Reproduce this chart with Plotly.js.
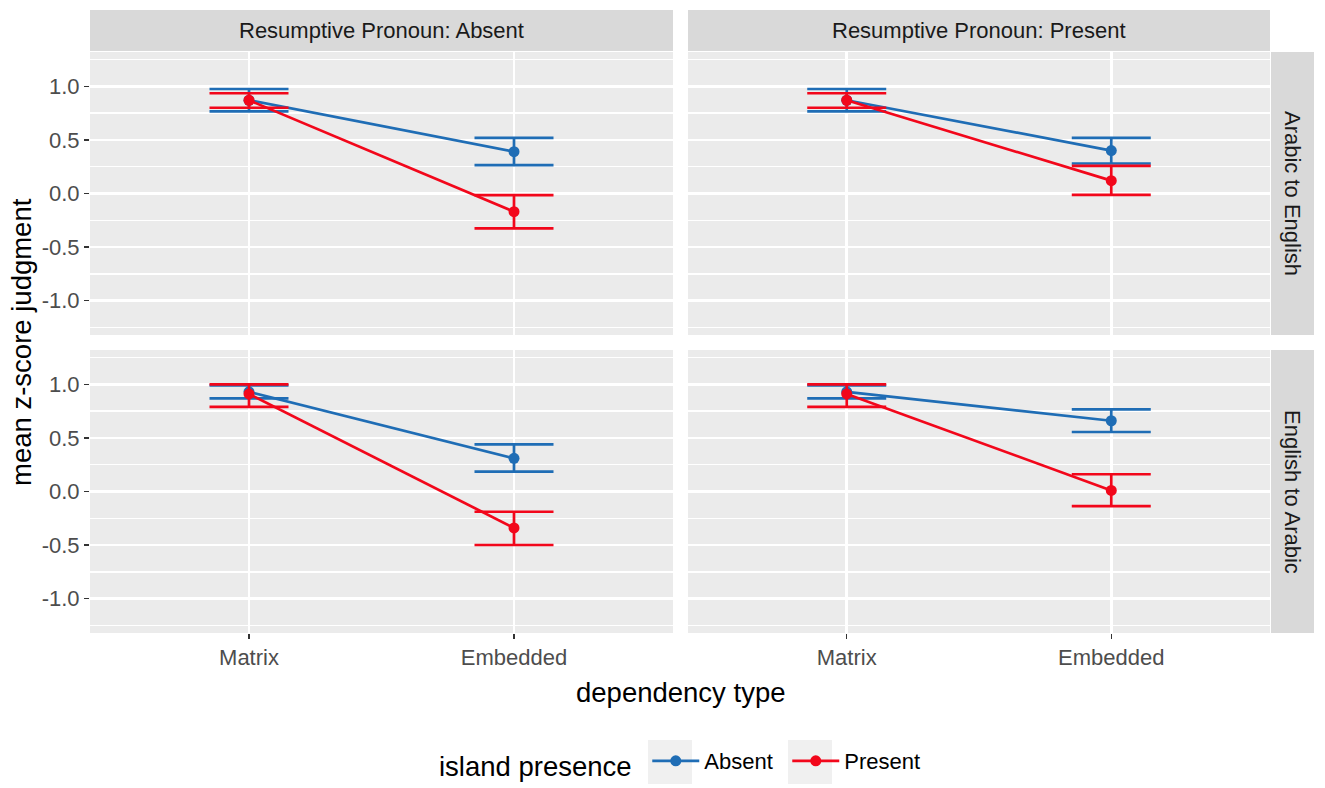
<!DOCTYPE html>
<html>
<head>
<meta charset="utf-8">
<script src="https://cdn.plot.ly/plotly-3.0.1.min.js"></script>
<style>
  html, body { margin: 0; padding: 0; background: #fff; }
  #chart { width: 1325px; height: 788px; }
</style>
</head>
<body>
<div id="chart"></div>
<script>
// categories
var depTypes = ['Matrix', 'Embedded']
var rpLevels = ['Resumptive Pronoun: Absent', 'Resumptive Pronoun: Present']
var directions = ['Arabic to English', 'English to Arabic']
var islandLevels = ['Absent', 'Present']

// panel order: [AE / RP absent, AE / RP present, EA / RP absent, EA / RP present]
var meanAbsent = [[0.87, 0.39], [0.87, 0.40], [0.93, 0.31], [0.93, 0.66]]
var loAbsent   = [[0.767, 0.264], [0.767, 0.28], [0.868, 0.186], [0.868, 0.555]]
var hiAbsent   = [[0.975, 0.518], [0.975, 0.518], [0.99, 0.44], [0.99, 0.766]]

var meanPresent = [[0.87, -0.17], [0.87, 0.12], [0.91, -0.34], [0.91, 0.01]]
var loPresent   = [[0.80, -0.326], [0.80, -0.013], [0.79, -0.499], [0.79, -0.136]]
var hiPresent   = [[0.935, -0.016], [0.935, 0.257], [1.0, -0.189], [1.0, 0.161]]

var yTicks = [-1.0, -0.5, 0.0, 0.5, 1.0]
var yTickText = ['-1.0', '-0.5', '0.0', '0.5', '1.0']

var W = 1325, H = 788
var FONT = 'Liberation Sans, Arial, sans-serif'
var colBlue = '#1f6db5'
var colRed = '#f2071b'

// pixel boxes of the panels
var cols = [[90, 673], [688, 1270]]
var rows = [[52, 335], [350, 633]]
function px(x) { return x / W }
function py(y) { return 1 - y / H }

function makeTrace(p, mean, lo, hi, color, name) {
    var up = mean.map(function (m, i) { return hi[i] - m })
    var down = mean.map(function (m, i) { return m - lo[i] })
    var suffix = p === 0 ? '' : String(p + 1)
    return {
        x: depTypes, y: mean, name: name, legendgroup: name,
        showlegend: p === 0,
        type: 'scatter', mode: 'lines+markers',
        xaxis: 'x' + suffix, yaxis: 'y' + suffix,
        line: {color: color, width: 2.7},
        marker: {color: color, size: 11},
        error_y: {type: 'data', symmetric: false, array: up, arrayminus: down,
                  color: color, thickness: 2.7, width: 39.5},
        hoverinfo: 'x+y+name'
    }
}

var data = []
for (var p = 0; p < 4; p++) {
    data.push(makeTrace(p, meanAbsent[p], loAbsent[p], hiAbsent[p], colBlue, islandLevels[0]))
}
for (var p = 0; p < 4; p++) {
    data.push(makeTrace(p, meanPresent[p], loPresent[p], hiPresent[p], colRed, islandLevels[1]))
}

var layout = {
    width: W, height: H,
    margin: {l: 0, r: 0, t: 0, b: 0},
    paper_bgcolor: '#ffffff', plot_bgcolor: '#ebebeb',
    font: {family: FONT, size: 22, color: '#4d4d4d'},
    showlegend: true,
    legend: {
        orientation: 'h', x: px(437), xanchor: 'left', y: py(763), yanchor: 'middle',
        bgcolor: 'rgba(0,0,0,0)',
        itemwidth: 47, entrywidth: 78, entrywidthmode: 'pixels',
        title: {text: 'island presence ', side: 'left', font: {size: 27.5, color: '#000'}},
        font: {size: 22, color: '#000'}
    },
    shapes: [],
    annotations: []
}

for (var p = 0; p < 4; p++) {
    var r = Math.floor(p / 2), c = p % 2
    var suffix = p === 0 ? '' : String(p + 1)
    layout['xaxis' + suffix] = {
        domain: [px(cols[c][0]), px(cols[c][1])],
        anchor: 'y' + suffix,
        type: 'category', categoryarray: depTypes, range: [-0.6, 1.6],
        showgrid: true, gridcolor: '#ffffff', gridwidth: 2.5, zeroline: false,
        showticklabels: r === 1, ticks: r === 1 ? 'outside' : '',
        ticklen: 5, tickwidth: 1.5, tickcolor: '#333333',
        tickfont: {size: 22, color: '#4d4d4d'}, fixedrange: true
    }
    layout['yaxis' + suffix] = {
        domain: [py(rows[r][1]), py(rows[r][0])],
        anchor: 'x' + suffix,
        range: [-1.32, 1.32],
        tickvals: yTicks, ticktext: yTickText,
        showgrid: true, gridcolor: '#ffffff', gridwidth: 2.5, zeroline: false,
        minor: {tickvals: [-1.25, -0.75, -0.25, 0.25, 0.75, 1.25], showgrid: true,
                gridcolor: '#ffffff', gridwidth: 1.3, ticks: ''},
        showticklabels: c === 0, ticks: c === 0 ? 'outside' : '',
        ticklen: 5, tickwidth: 1.5, tickcolor: '#333333',
        tickfont: {size: 22, color: '#4d4d4d'}, fixedrange: true
    }
}

// strips on top (columns)
for (var c = 0; c < 2; c++) {
    layout.shapes.push({type: 'rect', xref: 'paper', yref: 'paper',
        x0: px(cols[c][0]), x1: px(cols[c][1]), y0: py(51), y1: py(10),
        fillcolor: '#d9d9d9', line: {width: 0}})
    layout.annotations.push({xref: 'paper', yref: 'paper',
        x: px((cols[c][0] + cols[c][1]) / 2), y: py(31), text: rpLevels[c],
        showarrow: false, xanchor: 'center', yanchor: 'middle',
        font: {size: 22, color: '#1a1a1a'}})
}
// strips on the right (rows)
for (var r = 0; r < 2; r++) {
    layout.shapes.push({type: 'rect', xref: 'paper', yref: 'paper',
        x0: px(1271), x1: px(1314), y0: py(rows[r][1]), y1: py(rows[r][0]),
        fillcolor: '#d9d9d9', line: {width: 0}})
    layout.annotations.push({xref: 'paper', yref: 'paper',
        x: px(1292.5), y: py((rows[r][0] + rows[r][1]) / 2), text: directions[r],
        textangle: 90, showarrow: false, xanchor: 'center', yanchor: 'middle',
        font: {size: 22, color: '#1a1a1a'}})
}
// legend key backgrounds
var keyBoxes = [[648, 692], [788, 832]]
keyBoxes.forEach(function (k) {
    layout.shapes.push({type: 'rect', xref: 'paper', yref: 'paper',
        x0: px(k[0]), x1: px(k[1]), y0: py(784), y1: py(740),
        fillcolor: '#f0f0f0', line: {width: 0}, layer: 'below'})
})

// axis titles
layout.annotations.push({xref: 'paper', yref: 'paper', x: px(21), y: py(342),
    text: 'mean z-score judgment', textangle: -90, showarrow: false,
    xanchor: 'center', yanchor: 'middle', font: {size: 27.5, color: '#000'}})
layout.annotations.push({xref: 'paper', yref: 'paper', x: px(680), y: py(692),
    text: 'dependency type', showarrow: false,
    xanchor: 'center', yanchor: 'middle', font: {size: 27.5, color: '#000'}})

try {
    Plotly.newPlot('chart', data, layout, {displayModeBar: false, staticPlot: true})
}
catch (err) {
    console.error(err)
}
</script>
</body>
</html>
